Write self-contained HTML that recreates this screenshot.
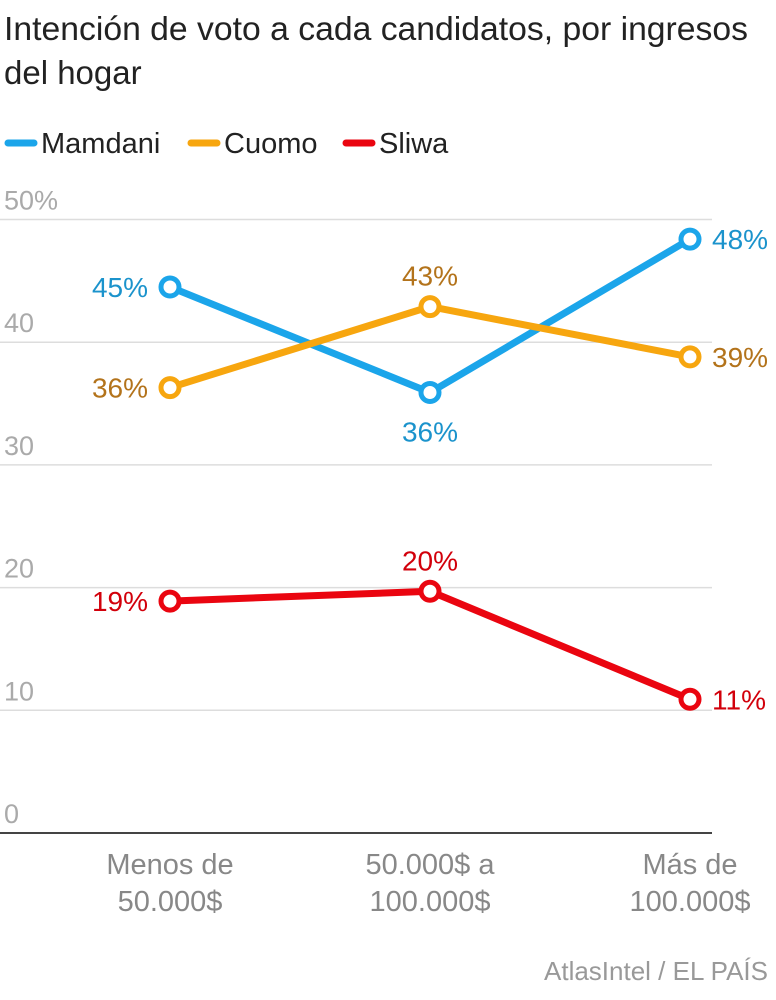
<!DOCTYPE html>
<html><head><meta charset="utf-8">
<style>
body{margin:0;background:#fff;width:776px;height:1000px;overflow:hidden;font-family:"Liberation Sans",sans-serif}
svg{display:block}
</style></head>
<body>
<svg id="chart" width="776" height="1000">
<text x="4" y="40" font-size="33" fill="#222" textLength="744" lengthAdjust="spacingAndGlyphs">Intención de voto a cada candidatos, por ingresos</text>
<text x="4" y="84" font-size="33" fill="#222">del hogar</text>
<g id="legend"></g>
<g id="grid"></g>
<g id="xlabels"></g>
<g id="series"></g>
<text x="768" y="980" font-size="26" fill="#999" text-anchor="end">AtlasIntel / EL PAÍS</text>
</svg>
<script>
const categories=[["Menos de","50.000$"],["50.000$ a","100.000$"],["Más de","100.000$"]];
const yTicks=[0,10,20,30,40,50];
const seriesNames=["Mamdani","Cuomo","Sliwa"];
const mamdani=[44.5,35.9,48.4];
const cuomo=[36.3,42.9,38.8];
const sliwa=[18.9,19.7,10.9];
const valueLabels=[["45%","36%","48%"],["36%","43%","39%"],["19%","20%","11%"]];
const lineColors=["#1ba5ea","#f7a60f","#ea0510"];
const textColors=["#1b93cc","#b3731b","#d2000b"];
const NS="http://www.w3.org/2000/svg";
const y=v=>833-v*12.27;
const x=i=>170+i*260;
function mk(t,a,p,txt){const e=document.createElementNS(NS,t);for(const k in a)e.setAttribute(k,a[k]);if(txt!==undefined)e.textContent=txt;p.appendChild(e);return e;}
const grid=document.getElementById('grid');
yTicks.forEach(v=>{
 const l=mk('line',{x1:0,x2:712,y1:y(v),y2:y(v),stroke:v===0?'#444':'#ddd','stroke-width':v===0?2:1.5},grid);
 
 
 const t=mk('text',{x:4,y:y(v)-10,'font-size':27,fill:'#aaa'},grid,v===50?'50%':String(v));
 
 
});
const xl=document.getElementById('xlabels');
categories.forEach((c,i)=>{
 c.forEach((s,j)=>{
  const t=mk('text',{x:x(i),y:874+j*37,'font-size':29,fill:'#888','text-anchor':'middle'},xl,s);
  
  
 });
});
const lg=document.getElementById('legend');
let lx=4;
seriesNames.forEach((n,k)=>{
 const l=mk('line',{x1:lx+4,x2:lx+30,y1:143,y2:143,stroke:lineColors[k],'stroke-width':7,'stroke-linecap':'round'},lg);
 
 
 const t=mk('text',{x:lx+37,y:153,'font-size':29,fill:'#222'},lg,n);
 
 
 lx+=[183,155,0][k];
});
const sg=document.getElementById('series');
const data=[mamdani,cuomo,sliwa];
const place=[["l","b","r"],["l","t","r"],["l","t","r"]];
data.forEach((d,k)=>{
 const p=mk('polyline',{points:d.map((v,i)=>x(i)+','+y(v)).join(' '),fill:'none',stroke:lineColors[k],'stroke-width':7,'stroke-linejoin':'round'},sg);
 
 
 d.forEach((v,i)=>{
  const c=mk('circle',{cx:x(i),cy:y(v),r:9,fill:'#fff',stroke:lineColors[k],'stroke-width':5},sg);
  
  
  const pl=place[k][i];let tx=x(i),ty=y(v)+10,an='middle';
  if(pl==='l'){tx=x(i)-22;an='end';}
  if(pl==='r'){tx=x(i)+22;an='start';}
  if(pl==='t'){ty=y(v)-21;}
  if(pl==='b'){ty=y(v)+49;}
  const t=mk('text',{x:tx,y:ty,'font-size':28,fill:textColors[k],'text-anchor':an},sg,valueLabels[k][i]);
  
  
 });
});
</script>
</body></html>
